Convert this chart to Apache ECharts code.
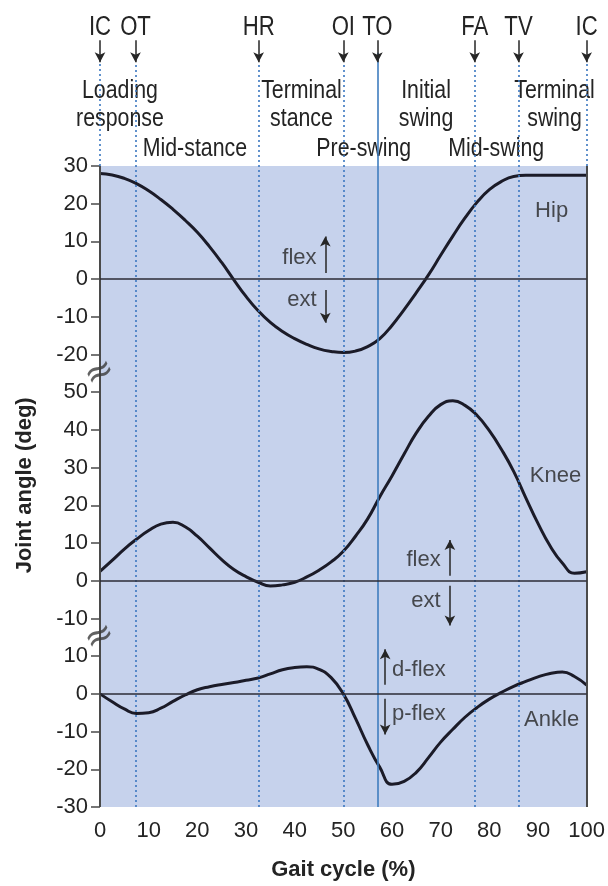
<!DOCTYPE html>
<html><head><meta charset="utf-8">
<script src="https://cdn.jsdelivr.net/npm/echarts@6/dist/echarts.min.js"></script>
<style>html,body{margin:0;padding:0;background:#fff}#c{width:608px;height:886px}</style>
</head><body><div id="c"></div>
<script>
// ---- data: gait cycle (%) and joint angle (deg) ----
const gaitPct  = [0, 2.5, 5, 7.5, 10, 12.5, 15, 17.5, 20, 22.5, 25, 27.5, 30, 32.5, 35, 37.5, 40, 42.5, 45, 47.5, 50,
                  52.5, 55, 57.5, 60, 62.5, 65, 67.5, 70, 72.5, 75, 77.5, 80, 82.5, 85, 87.5, 90, 92.5, 95, 97.5, 100];
const hipDeg   = [28, 27.6, 26.7, 25.3, 23.4, 21.1, 18.5, 15.6, 12.4, 8.6, 4.4, -0.2, -4.6, -8.4, -11.5, -13.9, -15.8, -17.3, -18.5, -19.2, -19.5,
                  -19.1, -17.9, -15.8, -12.3, -8.1, -3.6, 1.1, 6.3, 11.4, 16.2, 20.4, 23.7, 25.9, 27.2, 27.5, 27.5, 27.5, 27.5, 27.5, 27.5];
const kneeDeg  = [2.5, 5.4, 8.4, 11, 13.3, 15, 15.5, 14.3, 11.8, 8.7, 5.6, 3, 1.1, -0.4, -1.4, -1.1, -0.4, 1, 2.8, 5, 7.8,
                  11.8, 16.4, 22.3, 27.8, 33.6, 39.2, 43.6, 46.7, 47.7, 46.5, 43.8, 39.8, 34.8, 29, 22, 15.2, 9.2, 4.7, 2, 2.4];
const ankleDeg = [0, -2.1, -4, -5.2, -5, -3.8, -2, -0.3, 1.1, 1.9, 2.5, 3, 3.6, 4.2, 5.3, 6.4, 7, 7.2, 6.5, 4.3, 0,
                  -6.5, -13.5, -19.5, -24, -23.2, -20.8, -16.9, -12.8, -9.4, -6.2, -3.6, -1.4, 0.4, 2, 3.3, 4.5, 5.4, 5.8, 4.6, 2.3];

const eventNames = ['IC', 'OT', 'HR', 'OI', 'TO', 'FA', 'TV', 'IC'];
const eventPct   = [0, 7.3, 32.6, 50, 57, 77, 86, 100];
const phaseNames = ['Loading\nresponse', 'Mid-stance', 'Terminal\nstance', 'Pre-swing', 'Initial\nswing', 'Mid-swing', 'Terminal\nswing'];
const hipTicks   = [-20, -10, 0, 10, 20, 30];
const kneeTicks  = [-10, 0, 10, 20, 30, 40, 50];
const ankleTicks = [-30, -20, -10, 0, 10];

// ---- layout: the three panels share one stacked value axis ----
const OFF = {hip: 110, knee: 30, ankle: 0};
const Y_MIN = -30, Y_TOP = 140, Y_MAX = 184;
const HEAD = {eventLabel: 176.6, arrowTop: 173.3, arrowBot: 167.5, toTop: 170, row1: 156.1, row2: 144.5};
const phasePos = [[4.1, HEAD.row1], [19.5, HEAD.row2], [41.4, HEAD.row1], [54.2, HEAD.row2], [67, HEAD.row1], [81.4, HEAD.row2], [93.4, HEAD.row1]];

const FONT = '"Liberation Sans",Arial,sans-serif';
const TXT = '#242424';
const BLUE_DOT = '#3b77c0';
const NARROW = 0.82;

const yTicks = [].concat(ankleTicks.map(v => v + OFF.ankle), kneeTicks.map(v => v + OFF.knee), hipTicks.map(v => v + OFF.hip));
function tickText(v) {
  if (v <= 10) return String(v - OFF.ankle);
  if (v <= 80) return String(v - OFF.knee);
  return String(v - OFF.hip);
}
function pairs(xs, ys, off) { return xs.map((x, i) => [x, ys[i] + off]); }
function seg(x1, y1, x2, y2) { return [{coord: [x1, y1]}, {coord: [x2, y2]}]; }

const chart = echarts.init(document.getElementById('c'), null, {renderer: 'canvas'});

const dotted = [];
eventPct.forEach((p, i) => {
  if (eventNames[i] === 'TO') return;
  const low = (p === 0 || p === 100) ? Y_TOP : Y_MIN;
  dotted.push(seg(p, low, p, HEAD.arrowBot));
});
const eventArrows = eventPct.map(p => seg(p, HEAD.arrowTop, p, HEAD.arrowBot));

function textPoint(x, y, text, pos) {
  return {value: [x, y], name: text, label: {position: pos}};
}
const annotations = [
  textPoint(92.8, 18 + OFF.hip, 'Hip', 'inside'),
  textPoint(44.5, 5.5 + OFF.hip, 'flex', 'left'),
  textPoint(44.5, -5.5 + OFF.hip, 'ext', 'left'),
  textPoint(93.6, 27.7 + OFF.knee, 'Knee', 'inside'),
  textPoint(70, 5.5 + OFF.knee, 'flex', 'left'),
  textPoint(70, -5.3 + OFF.knee, 'ext', 'left'),
  textPoint(92.8, -6.8 + OFF.ankle, 'Ankle', 'inside'),
  textPoint(60, 6.3 + OFF.ankle, 'd-flex', 'right'),
  textPoint(60, -5.3 + OFF.ankle, 'p-flex', 'right')
];
const annoArrows = [
  seg(46.3, 1.6 + OFF.hip, 46.3, 11.3 + OFF.hip),
  seg(46.3, -2.9 + OFF.hip, 46.3, -11.6 + OFF.hip),
  seg(71.9, 1.3 + OFF.knee, 71.9, 10.8 + OFF.knee),
  seg(71.9, -1.3 + OFF.knee, 71.9, -11.9 + OFF.knee),
  seg(58.6, 2.4, 58.6, 11.8),
  seg(58.6, -1.3, 58.6, -10.8)
];

const curveStyle = {color: '#1b1b28', width: 3};
function markSeries(z, lineStyle, data, symbol) {
  return {type: 'line', data: [], z: z, silent: true,
    markLine: {silent: true, symbol: symbol || ['none', 'none'], symbolSize: [8, 10], label: {show: false}, lineStyle: lineStyle, data: data}};
}

chart.setOption({
  animation: false,
  backgroundColor: '#ffffff',
  textStyle: {fontFamily: FONT, color: TXT},
  grid: {left: 100, right: 20, top: 0, bottom: 75, containLabel: false},
  xAxis: {
    type: 'value', min: 0, max: 100, interval: 10,
    axisLine: {show: true, lineStyle: {color: '#4a4a4a', width: 2}},
    axisTick: {show: true, length: 8, lineStyle: {color: '#4a4a4a', width: 1.5}},
    axisLabel: {fontSize: 22, color: TXT, fontFamily: FONT, margin: 13},
    splitLine: {show: false},
    name: 'Gait cycle (%)', nameLocation: 'middle', nameGap: 52,
    nameTextStyle: {fontSize: 22, fontWeight: 'bold', color: TXT, fontFamily: FONT}
  },
  yAxis: {
    type: 'value', min: Y_MIN, max: Y_MAX, interval: 10,
    axisLine: {show: false},
    axisTick: {show: true, length: 9, customValues: yTicks, lineStyle: {color: '#4a4a4a', width: 1.5}},
    axisLabel: {customValues: yTicks, formatter: tickText, fontSize: 22, color: TXT, fontFamily: FONT, margin: 12},
    splitLine: {show: false}
  },
  series: [
    {type: 'line', data: [], z: 0, silent: true,
      markArea: {silent: true, itemStyle: {color: '#c6d2ec'}, data: [[{coord: [0, Y_MIN]}, {coord: [100, Y_TOP]}]]}},
    markSeries(1, {color: BLUE_DOT, width: 1.6, type: [2, 3]}, dotted),
    markSeries(3, {color: '#3f7dbf', width: 1.6, type: 'solid'}, [seg(eventPct[4], Y_MIN, eventPct[4], HEAD.toTop)]),
    markSeries(3, {color: '#4a4a4a', width: 2, type: 'solid'}, [seg(0, Y_MIN, 0, Y_TOP), seg(100, Y_MIN, 100, Y_TOP)]),
    markSeries(3, {color: '#2b2b36', width: 1.6, type: 'solid'}, [seg(0, OFF.hip, 100, OFF.hip), seg(0, OFF.knee, 100, OFF.knee), seg(0, OFF.ankle, 100, OFF.ankle)]),
    {name: 'Hip', type: 'line', z: 4, smooth: 0.5, symbol: 'none', silent: true, lineStyle: curveStyle, data: pairs(gaitPct, hipDeg, OFF.hip)},
    {name: 'Knee', type: 'line', z: 4, smooth: 0.5, symbol: 'none', silent: true, lineStyle: curveStyle, data: pairs(gaitPct, kneeDeg, OFF.knee)},
    {name: 'Ankle', type: 'line', z: 4, smooth: 0.5, symbol: 'none', silent: true, lineStyle: curveStyle, data: pairs(gaitPct, ankleDeg, OFF.ankle)},
    markSeries(5, {color: '#262626', width: 1.5, type: 'solid'}, eventArrows.concat(annoArrows), ['none', 'arrow']),
    {type: 'scatter', z: 5, silent: true, symbolSize: 0, data: annotations,
      label: {show: true, formatter: '{b}', distance: 0, color: TXT, fontFamily: FONT, fontSize: 22}},
    {type: 'scatter', z: 5, silent: true, symbolSize: 0, clip: false,
      data: [{value: [0, 15], name: '≈'}, {value: [0, 85], name: '≈'}],
      label: {show: true, position: 'inside', formatter: '{b}', fontSize: 36, color: '#3a3a3a', rotate: 28, fontFamily: 'DejaVu Sans'}}
  ]
});

// condensed header text, placed through the chart's own coordinate system
const px = (x, v) => chart.convertToPixel({gridIndex: 0}, [x, v]);
const graphics = [];
eventNames.forEach((n, i) => {
  const p = px(eventPct[i], HEAD.eventLabel);
  graphics.push({type: 'text', x: p[0], y: p[1], scaleX: NARROW, z: 2, silent: true,
    style: {text: n, fontSize: 27, fontFamily: FONT, fill: TXT, align: 'center', verticalAlign: 'middle'}});
});
phaseNames.forEach((n, i) => {
  const p = px(phasePos[i][0], phasePos[i][1]);
  graphics.push({type: 'text', x: p[0], y: p[1], scaleX: NARROW, z: 2, silent: true,
    style: {text: n.split('\n').map(s => '{a|' + s + '}').join('\n'), fontSize: 26, fontFamily: FONT, fill: TXT,
      align: 'center', verticalAlign: 'middle',
      rich: {a: {fontSize: 26, lineHeight: 28, fontFamily: FONT, fill: TXT, backgroundColor: '#ffffff', padding: [0, 2]}}}});
});
const yName = px(0, 55.3);
graphics.push({type: 'text', x: 25, y: yName[1], rotation: Math.PI / 2, silent: true,
  style: {text: 'Joint angle (deg)', fontSize: 22, fontWeight: 'bold', fontFamily: FONT, fill: TXT, align: 'center', verticalAlign: 'middle'}});
chart.setOption({graphic: graphics});
</script></body></html>
